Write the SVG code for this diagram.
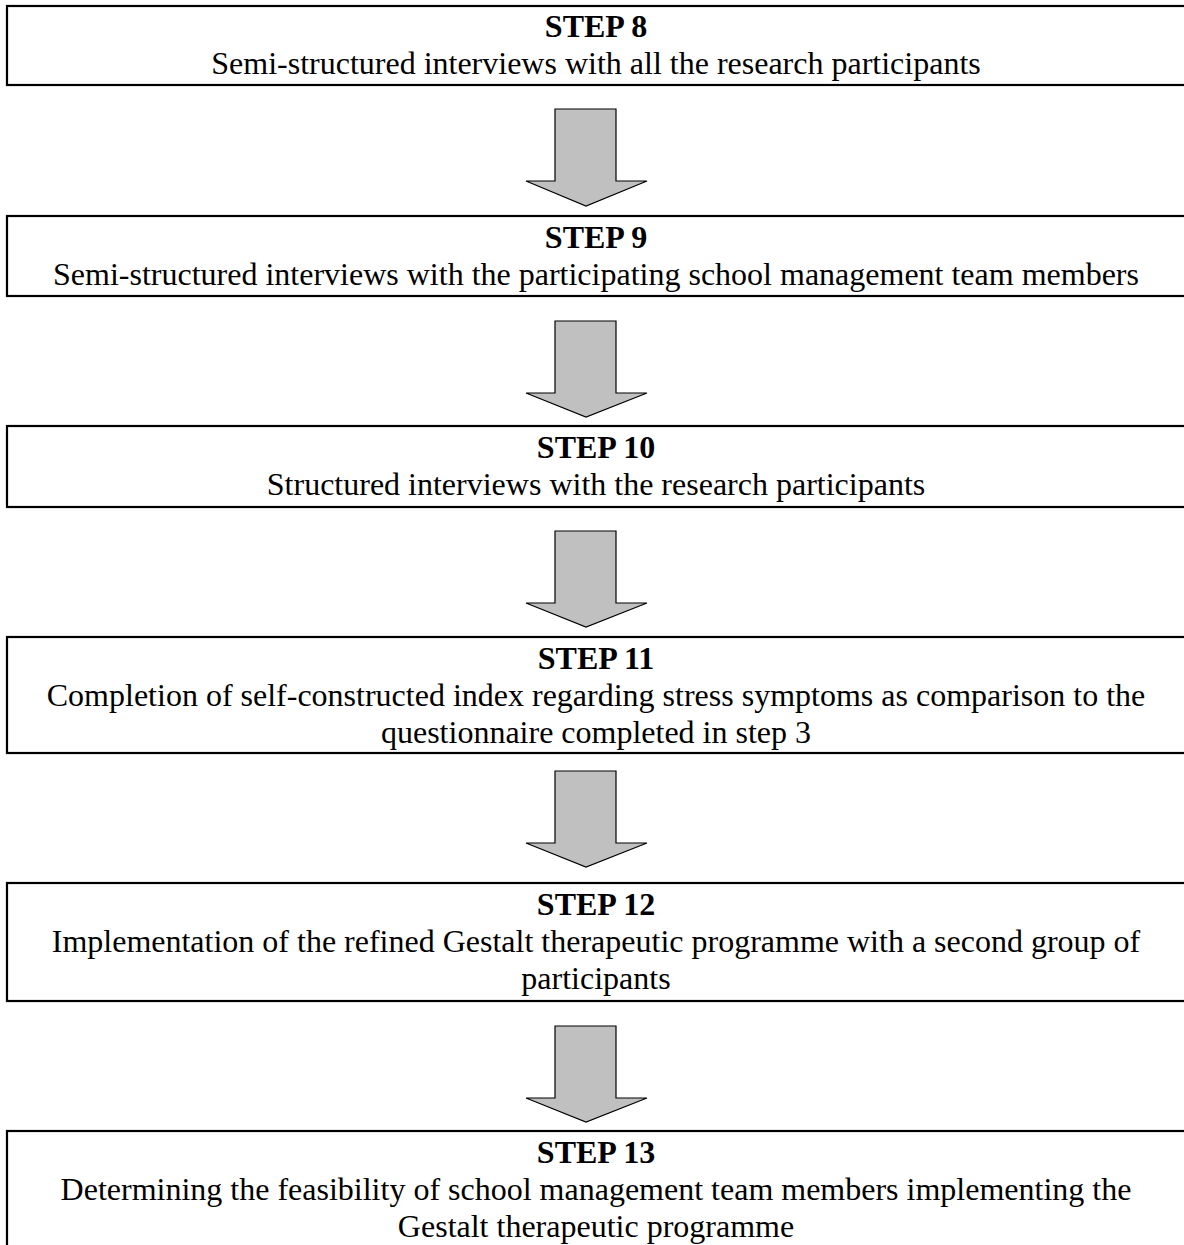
<svg xmlns="http://www.w3.org/2000/svg" width="1184" height="1245" viewBox="0 0 1184 1245">
<style>
.box{fill:#fff;stroke:#000;stroke-width:2.2}
.arr{fill:#c0c0c0;stroke:#000;stroke-width:1.2;stroke-linejoin:miter}
text{font-family:"Liberation Serif","Times New Roman",serif;font-size:32px;fill:#000;text-anchor:middle}
.h{font-weight:bold}
</style>
<rect width="1184" height="1245" fill="#fff"/>
<g id="connectors">
<path class="arr" d="M555,109 H616 V181 H647 L586,206 L526,181 H555 Z"/>
<path class="arr" d="M555,321 H616 V393 H647 L586,417 L526,393 H555 Z"/>
<path class="arr" d="M555,531 H616 V603 H647 L586,627 L526,603 H555 Z"/>
<path class="arr" d="M555,771 H616 V843 H647 L586,867 L526,843 H555 Z"/>
<path class="arr" d="M555,1026 H616 V1098 H647 L586,1122 L526,1098 H555 Z"/>
</g>
<g id="step8">
<rect class="box" x="7" y="6" width="1200" height="79"/>
<text class="h" x="596" y="37">STEP 8</text>
<text x="596" y="74">Semi-structured interviews with all the research participants</text>
</g>
<g id="step9">
<rect class="box" x="7" y="216" width="1200" height="80"/>
<text class="h" x="596" y="248">STEP 9</text>
<text x="596" y="285">Semi-structured interviews with the participating school management team members</text>
</g>
<g id="step10">
<rect class="box" x="7" y="426" width="1200" height="81"/>
<text class="h" x="596" y="458">STEP 10</text>
<text x="596" y="495">Structured interviews with the research participants</text>
</g>
<g id="step11">
<rect class="box" x="7" y="637" width="1200" height="116"/>
<text class="h" x="596" y="669">STEP 11</text>
<text x="596" y="706">Completion of self-constructed index regarding stress symptoms as comparison to the</text>
<text x="596" y="743">questionnaire completed in step 3</text>
</g>
<g id="step12">
<rect class="box" x="7" y="883" width="1200" height="118"/>
<text class="h" x="596" y="915">STEP 12</text>
<text x="596" y="952">Implementation of the refined Gestalt therapeutic programme with a second group of</text>
<text x="596" y="989">participants</text>
</g>
<g id="step13">
<rect class="box" x="7" y="1131" width="1200" height="140"/>
<text class="h" x="596" y="1163">STEP 13</text>
<text x="596" y="1200">Determining the feasibility of school management team members implementing the</text>
<text x="596" y="1237">Gestalt therapeutic programme</text>
</g>
</svg>
